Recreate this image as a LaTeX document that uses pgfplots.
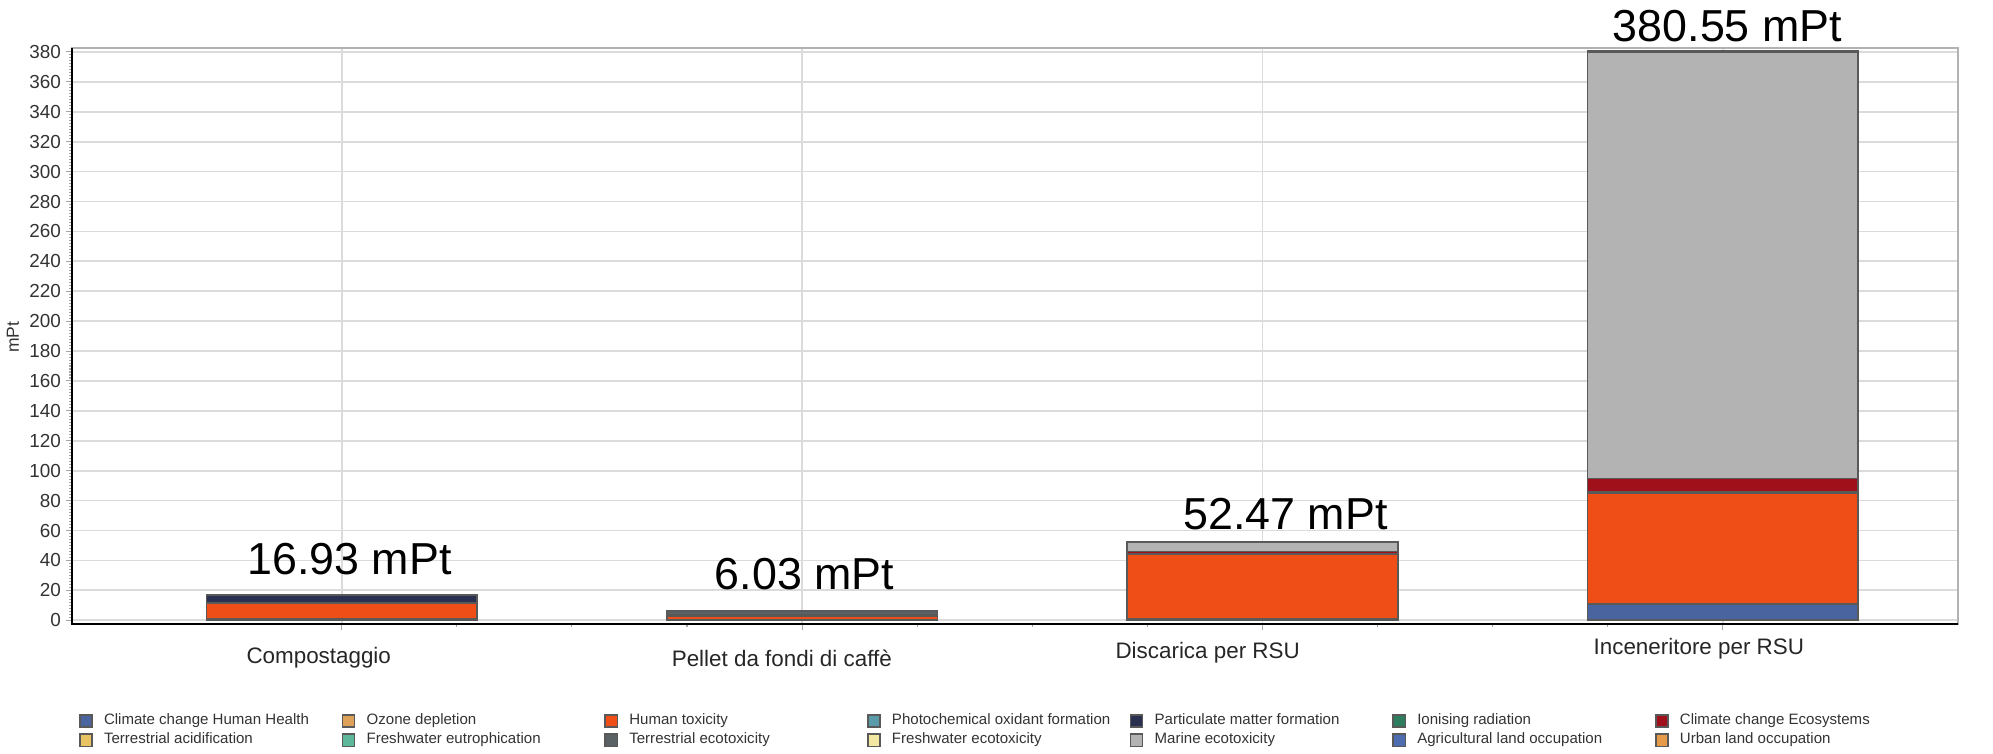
\documentclass[border=0pt]{standalone}
\usepackage{fontspec}
\setmainfont{Liberation Sans}
\usepackage{pgfplots}
\pgfplotsset{compat=1.18}
\definecolor{cchh}{HTML}{4A64A0}
\definecolor{ozone}{HTML}{DDA158}
\definecolor{htox}{HTML}{EF4F17}
\definecolor{photo}{HTML}{5A9BAA}
\definecolor{pm}{HTML}{2A3050}
\definecolor{ion}{HTML}{2E7D5E}
\definecolor{cce}{HTML}{A0101A}
\definecolor{tacid}{HTML}{E8C462}
\definecolor{feut}{HTML}{5DB89B}
\definecolor{teco}{HTML}{5A6266}
\definecolor{feco}{HTML}{F2E8A2}
\definecolor{meco}{HTML}{B3B3B3}
\definecolor{agri}{HTML}{4D6DB0}
\definecolor{urban}{HTML}{E69B48}
\newcommand{\legbox}[1]{\makebox[67.9pt][l]{#1}}
\begin{document}
\begin{tikzpicture}
\begin{axis}[
  name=ax,
  scale only axis, width=538.9pt, height=164.6pt,
  at={(0,0)}, anchor=south west,
  ybar stacked, bar width=0.588,
  xmin=-0.586, xmax=3.511, ymin=-2.5, ymax=382.7,
  xtick={0,1,2,3}, xticklabels={,,,}, minor x tick num=3,
  ytick={0,20,...,380}, minor y tick num=9,
  tick pos=left, tick align=outside,
  major tick length=1.8pt, minor tick length=0.8pt,
  xmajorgrids, ymajorgrids,
  grid style={draw=gray!28, line width=0.5pt},
  axis line style={draw=gray!60, line width=0.4pt},
  tick style={draw=gray!70, line width=0.3pt},
  yticklabel style={font=\fontsize{5.4}{6}\selectfont, text=black!80, inner sep=1.2pt},
  /pgf/number format/assume math mode=true,
  clip=false,
  every axis plot/.append style={draw=black!65, line width=0.45pt},
  legend columns=7,
  legend style={at={(axis description cs:0,0)}, anchor=north west, xshift=2pt, yshift=-25.7pt,
    draw=none, fill=none, inner sep=0pt, outer sep=0pt, row sep=1.6pt,
    font=\fontsize{4.3}{5}\selectfont, text=black!80,
    nodes={inner sep=0pt, text height=3pt, text depth=0.9pt},
    /tikz/every odd column/.append style={column sep=3.2pt}},
  legend cell align=left,
  legend image code/.code={\draw[#1] (0pt,-1.75pt) rectangle (3.5pt,1.75pt);},
]
\addplot[fill=cchh]  coordinates {(0,1.0) (1,0.3) (2,1.3) (3,11.0)};
\addplot[fill=ozone] coordinates {(0,0) (1,0) (2,0) (3,0)};
\addplot[fill=htox]  coordinates {(0,10.6) (1,2.7) (2,43.0) (3,74.2)};
\addplot[fill=photo] coordinates {(0,0.05) (1,0.02) (2,0.05) (3,0.2)};
\addplot[fill=pm]    coordinates {(0,5.2) (1,0.3) (2,0.3) (3,0.5)};
\addplot[fill=ion]   coordinates {(0,0) (1,0) (2,0) (3,0.05)};
\addplot[fill=cce]   coordinates {(0,0.08) (1,0.05) (2,1.2) (3,8.7)};
\addplot[fill=tacid] coordinates {(0,0) (1,0) (2,0) (3,0)};
\addplot[fill=feut]  coordinates {(0,0) (1,0) (2,0) (3,0)};
\addplot[fill=teco]  coordinates {(0,0) (1,2.66) (2,0.1) (3,0.1)};
\addplot[fill=feco]  coordinates {(0,0) (1,0) (2,0) (3,0)};
\addplot[fill=meco]  coordinates {(0,0) (1,0) (2,6.52) (3,285.0)};
\addplot[fill=agri]  coordinates {(0,0) (1,0) (2,0) (3,0.8)};
\addplot[fill=urban] coordinates {(0,0) (1,0) (2,0) (3,0)};
\legend{\legbox{Climate change Human Health},\legbox{Ozone depletion},\legbox{Human toxicity},\legbox{Photochemical oxidant formation},\legbox{Particulate matter formation},\legbox{Ionising radiation},\legbox{Climate change Ecosystems},
\legbox{Terrestrial acidification},\legbox{Freshwater eutrophication},\legbox{Terrestrial ecotoxicity},\legbox{Freshwater ecotoxicity},\legbox{Marine ecotoxicity},\legbox{Agricultural land occupation},\legbox{Urban land occupation}}
\draw[black, line width=0.7pt] (rel axis cs:0,1) -- (rel axis cs:0,0) -- (rel axis cs:1,0);
\node[anchor=base, font=\fontsize{12.8}{14}\selectfont] at (axis cs:0.017,30.6) {16.93 mPt};
\node[anchor=base, font=\fontsize{12.8}{14}\selectfont] at (axis cs:1.005,20.4) {6.03 mPt};
\node[anchor=base, font=\fontsize{12.8}{14}\selectfont] at (axis cs:2.05,60.4) {52.47 mPt};
\node[anchor=base, font=\fontsize{12.8}{14}\selectfont] at (axis cs:3.01,386.9) {380.55 mPt};
\node[font=\fontsize{6.4}{7}\selectfont, text=black!85] at ([yshift=-9.7pt]axis cs:-0.050,-2.5) {Compostaggio};
\node[font=\fontsize{6.4}{7}\selectfont, text=black!85] at ([yshift=-9.7pt]axis cs:0.956,-2.5) {Pellet da fondi di caffè};
\node[font=\fontsize{6.4}{7}\selectfont, text=black!85] at ([yshift=-8.3pt]axis cs:1.881,-2.5) {Discarica per RSU};
\node[font=\fontsize{6.4}{7}\selectfont, text=black!85] at ([yshift=-7.1pt]axis cs:2.948,-2.5) {Inceneritore per RSU};
\node[rotate=90, font=\fontsize{5}{6}\selectfont, text=black!80] at ([xshift=-16.9pt]axis description cs:0,0.498) {mPt};
\end{axis}
\pgfresetboundingbox
\path ([xshift=-20.57pt,yshift=-37.14pt]ax.south west) rectangle ([xshift=10pt,yshift=13.7pt]ax.north east);
\end{tikzpicture}
\end{document}
